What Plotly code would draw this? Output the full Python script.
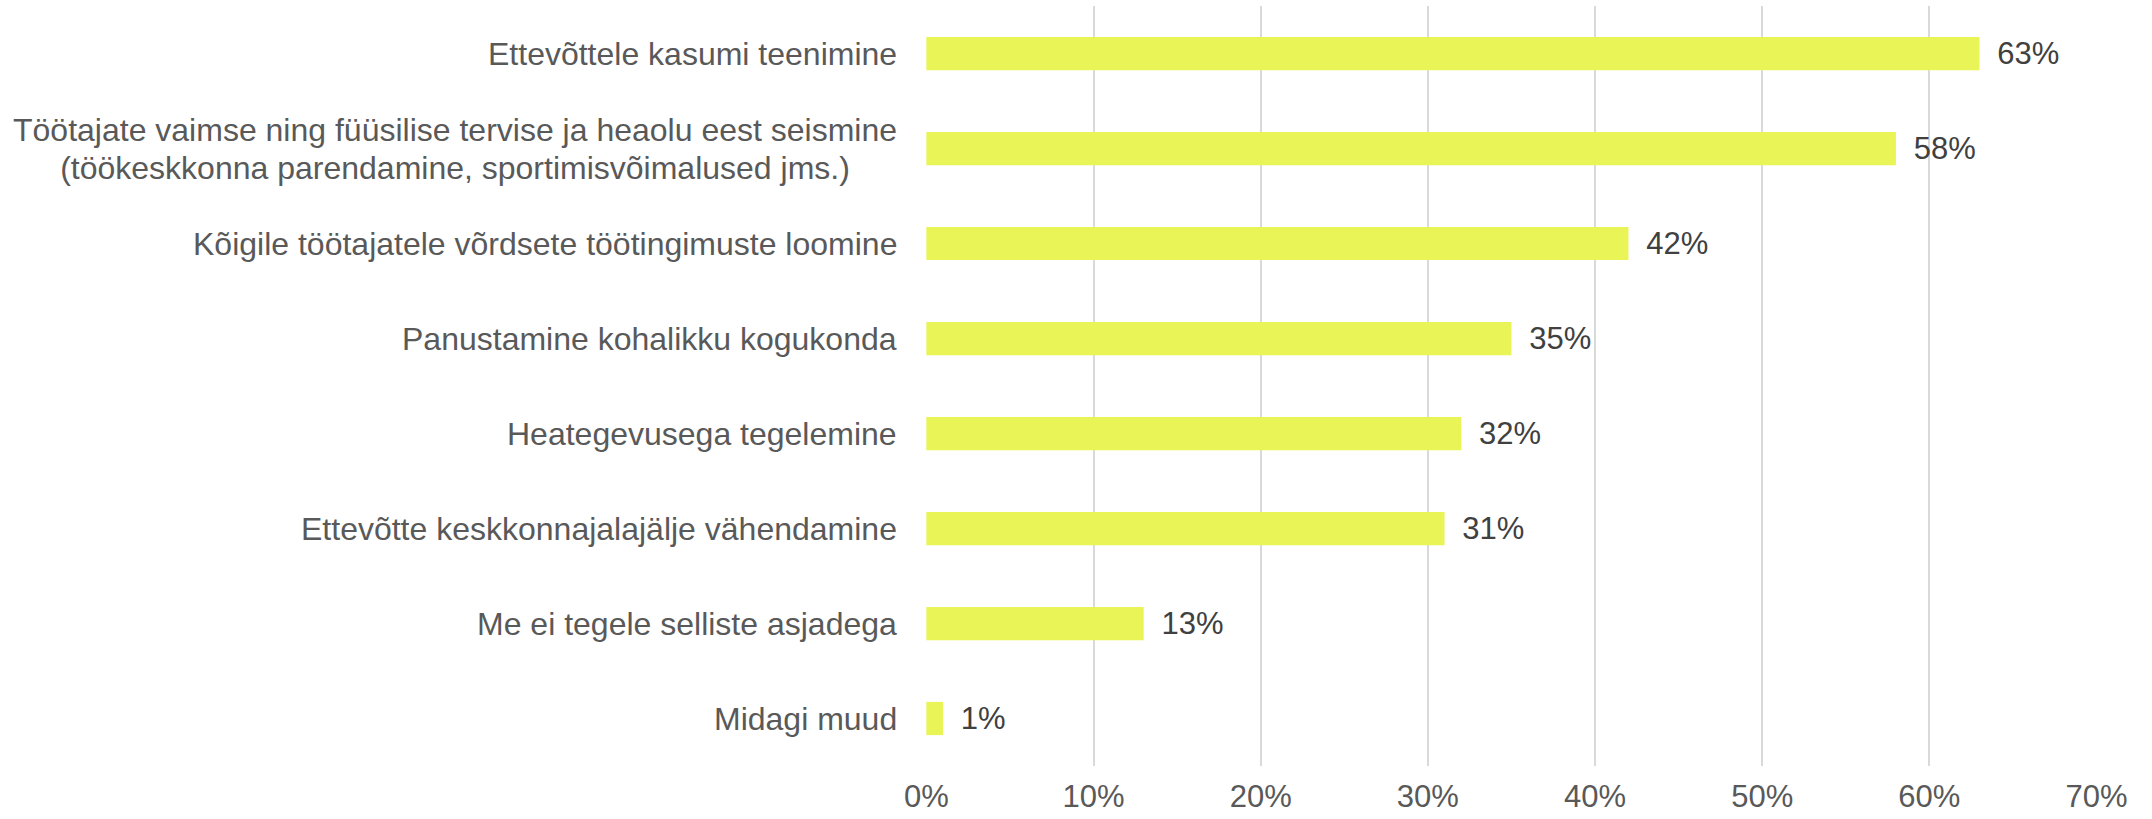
import plotly.graph_objects as go

# Data
categories = [
    "Ettevõttele kasumi teenimine",
    "Töötajate vaimse ning füüsilise tervise ja heaolu eest seismine<br>(töökeskkonna parendamine, sportimisvõimalused jms.)",
    "Kõigile töötajatele võrdsete töötingimuste loomine",
    "Panustamine kohalikku kogukonda",
    "Heategevusega tegelemine",
    "Ettevõtte keskkonnajalajälje vähendamine",
    "Me ei tegele selliste asjadega",
    "Midagi muud",
]
values = [63, 58, 42, 35, 32, 31, 13, 1]
tick_vals = [0, 10, 20, 30, 40, 50, 60, 70]
tick_text = ["0%", "10%", "20%", "30%", "40%", "50%", "60%", "70%"]

FONT = "Liberation Sans, Arial, sans-serif"
ids = [str(i) for i in range(len(categories))]

fig = go.Figure()
fig.add_trace(go.Bar(
    x=values,
    y=ids,
    orientation="h",
    marker=dict(color="#E9F456", line=dict(width=0)),
    text=["\u00a0\u2009" + str(v) + "%" for v in values],
    textposition="outside",
    constraintext="none",
    cliponaxis=False,
    textfont=dict(family=FONT, size=31, color="#404040"),
    hoverinfo="skip",
))

# category labels as centred annotations (Excel style);
# base size 29 keeps the line spacing tight, the span sets the glyph size
for cid, lab in zip(ids, categories):
    lines = lab.split("<br>")
    txt = "<br>".join('<span style="font-size:32px">' + ln + "</span>" for ln in lines)
    fig.add_annotation(
        x=0, xref="paper", y=cid, yref="y",
        text=txt, showarrow=False,
        xanchor="right", yanchor="middle", align="center",
        xshift=-27,
        font=dict(family=FONT, size=29, color="#595959"),
    )

fig.update_layout(
    width=2152, height=819,
    margin=dict(l=926, r=55, t=6, b=53, autoexpand=False),
    paper_bgcolor="white",
    plot_bgcolor="white",
    bargap=0.65,
    showlegend=False,
    xaxis=dict(
        range=[-0.02, 70.03],
        tickvals=tick_vals,
        ticktext=tick_text,
        showgrid=True,
        gridcolor="#D9D9D9",
        gridwidth=1.5,
        zeroline=False,
        showline=False,
        ticks="",
        ticklabelstandoff=9,
        tickfont=dict(family=FONT, size=31, color="#595959"),
        automargin=False,
        fixedrange=True,
    ),
    yaxis=dict(
        range=[7.5, -0.5],
        showticklabels=False,
        showgrid=False,
        zeroline=False,
        ticks="",
        automargin=False,
        fixedrange=True,
    ),
)

# drop the default 8px page margin so the figure sits at the window corner
fig.write_html("out.html", config={"displayModeBar": False},
               post_script="document.body.style.margin='0';")
